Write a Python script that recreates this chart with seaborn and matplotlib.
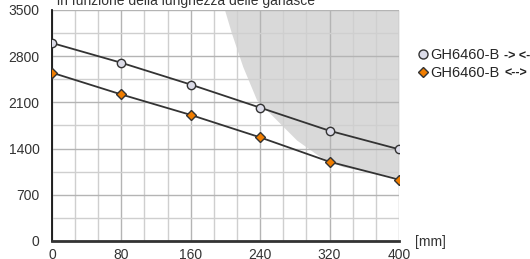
import numpy as np
import pandas as pd
import seaborn as sns
import matplotlib.pyplot as plt

# data
lunghezza = [0, 80, 160, 240, 320, 400]
forza_chiusa = [3000, 2700, 2370, 2020, 1670, 1390]   # GH6460-B -> <-
forza_aperta = [2550, 2220, 1910, 1570, 1200, 930]    # GH6460-B <-->
# boundary of the grey zone (x, y)
zona_x = [199, 207, 220, 236, 259, 282, 309, 335, 370, 400]
zona_y = [3500, 3147, 2641, 2136, 1833, 1530, 1277, 1126, 1040, 960]

x_ticks = [0, 80, 160, 240, 320, 400]
y_ticks = [0, 700, 1400, 2100, 2800, 3500]
serie_nomi = ['GH6460-B', 'GH6460-B']
serie_frecce = ['-> <-', '<-->']


def main():
    sns.set_style('white')
    plt.rcParams['font.family'] = ['Liberation Sans', 'DejaVu Sans']

    df = pd.DataFrame({'x': lunghezza * 2,
                       'y': forza_chiusa + forza_aperta,
                       'serie': ['chiusa'] * 6 + ['aperta'] * 6})

    fig = plt.figure(figsize=(5.3, 2.59), dpi=100)
    ax = fig.add_axes([0.098, 0.0695, 0.6547, 0.892])

    # grey zone
    ax.fill_between(zona_x, zona_y, 3500, color='#d9d9d9', lw=0, zorder=0.2)

    sns.lineplot(data=df, x='x', y='y', hue='serie', style='serie',
                 markers=['o', 'D'], dashes=False,
                 palette=['#333333', '#333333'], lw=1.3,
                 markersize=6, markeredgecolor='#333333', markeredgewidth=1.0,
                 legend=False, ax=ax, zorder=3)
    # marker face colours
    lines = ax.get_lines()
    lines[0].set_markerfacecolor('#dcdce8')
    lines[1].set_markerfacecolor('#f07d00')
    lines[1].set_markersize(5.5)

    ax.set_xlim(0, 400)
    ax.set_ylim(0, 3500)
    ax.set_xticks(x_ticks)
    ax.set_yticks(y_ticks)
    ax.set_xticks(np.arange(0, 401, 80 / 3), minor=True)
    ax.set_yticks(np.arange(0, 3501, 350), minor=True)
    ax.grid(which='major', color='#b4b4b4', lw=1.0)
    ax.grid(which='minor', color='#cfcfcf', lw=1.0)
    ax.set_axisbelow(True)

    for s in ['top', 'right']:
        ax.spines[s].set_visible(False)
    ax.spines['left'].set_color('#111111')
    ax.spines['left'].set_linewidth(1.3)
    ax.spines['bottom'].set_color('#333333')
    ax.spines['bottom'].set_linewidth(2.0)
    ax.tick_params(which='major', direction='out', length=5, width=1.1,
                   colors='#222222', labelcolor='#333333', labelsize=10, pad=4)
    ax.tick_params(which='minor', length=0)
    ax.tick_params(axis='x', length=4, pad=1)
    ax.set_xlabel('')
    ax.set_ylabel('')

    ax.text(1.045, -0.005, '[mm]', transform=ax.transAxes, fontsize=10,
            color='#333333', va='center', ha='left')

    fig.text(0.107, 0.982, 'in funzione della lunghezza delle ganasce',
             fontsize=10, color='#333333', va='baseline', ha='left')

    # legend
    h1 = plt.Line2D([], [], ls='', marker='o', ms=6.5, mfc='#dcdce8', mec='#333333')
    h2 = plt.Line2D([], [], ls='', marker='D', ms=5.5, mfc='#f07d00', mec='#333333')
    ax.legend([h1, h2], serie_nomi,
              loc='upper left', bbox_to_anchor=(1.052, 0.835), frameon=False,
              fontsize=10.5, handlelength=0.8, handletextpad=0.1,
              labelspacing=0.3, borderaxespad=0, borderpad=0)
    for i, fr in enumerate(serie_frecce):
        ax.text(1.303, 0.802 - i * 0.078, fr, transform=ax.transAxes,
                fontsize=9, fontweight='bold', color='#222222',
                va='center', ha='left')

    fig.savefig('out.png', dpi=100)
    plt.close(fig)


if __name__ == '__main__':
    main()
